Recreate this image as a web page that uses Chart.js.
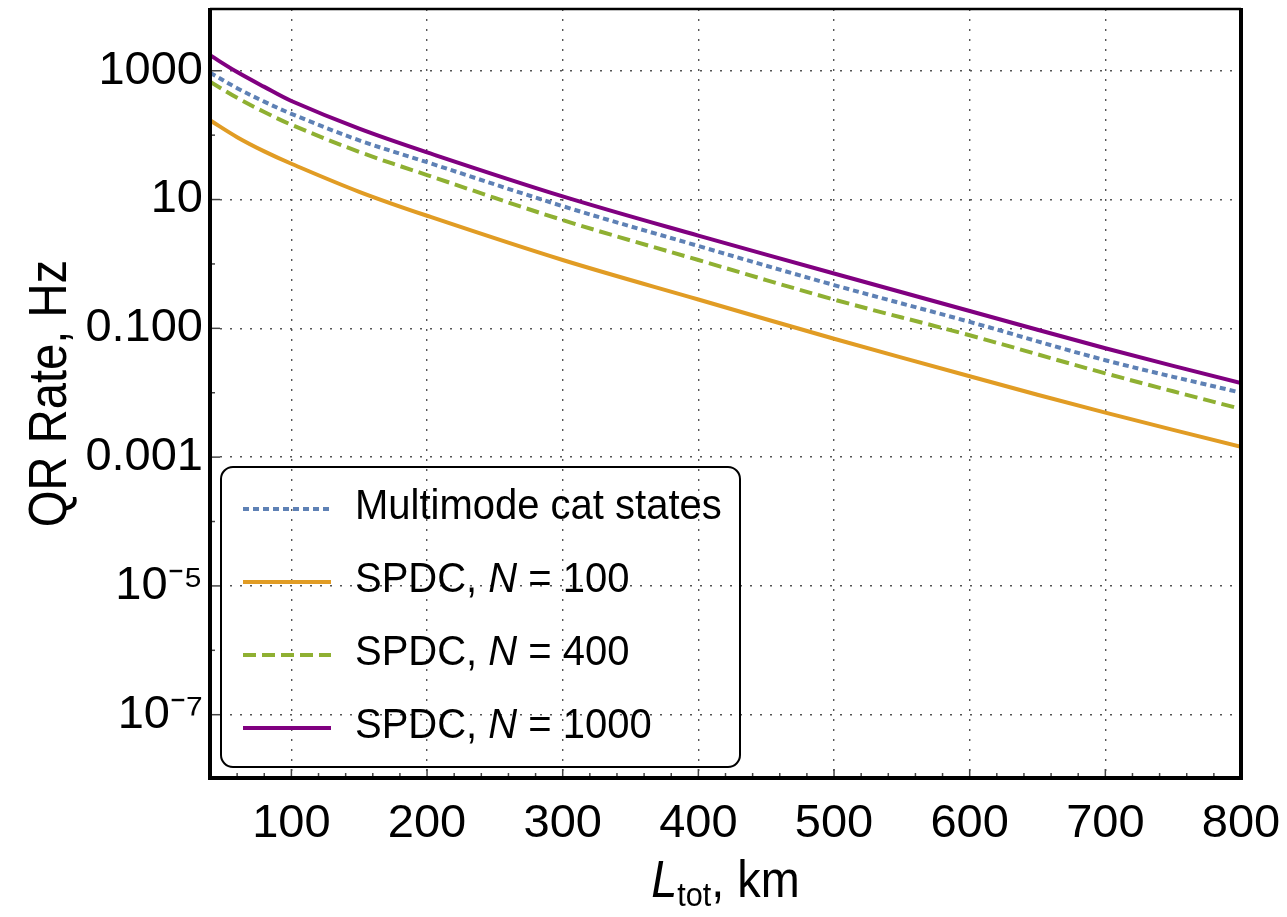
<!DOCTYPE html>
<html><head><meta charset="utf-8">
<script src="https://cdn.jsdelivr.net/npm/chart.js@4.4.1/dist/chart.umd.min.js"></script>
<style>html,body{margin:0;padding:0;background:#fff}#wrap{width:1287px;height:917px}</style>
</head><body><div id="wrap"><canvas id="c" width="1287" height="917"></canvas></div>
<script>
// ---- data ----
const distances = [40, 60, 80, 100, 150, 200, 300, 400, 500, 600, 700, 800];
const catStates = [933, 537, 331, 214, 83, 38, 7.9, 1.9, 0.47, 0.126, 0.032, 0.010];
const spdc100   = [170, 93, 56, 36, 13.2, 5.6, 1.15, 0.28, 0.069, 0.018, 0.0049, 0.00145];
const spdc400   = [676, 380, 229, 145, 55, 24, 4.8, 1.15, 0.28, 0.078, 0.020, 0.0056];
const spdc1000  = [1740, 955, 562, 339, 126, 54, 11.2, 2.75, 0.71, 0.186, 0.049, 0.0141];
const seriesNames = ['Multimode cat states', 'SPDC, N = 100', 'SPDC, N = 400', 'SPDC, N = 1000'];
const xTickValues = [100, 200, 300, 400, 500, 600, 700, 800];
const xTickLabels = ['100', '200', '300', '400', '500', '600', '700', '800'];
const xMinorValues = [40, 60, 80, 120, 140, 160, 180, 220, 240, 260, 280, 320, 340, 360, 380, 420, 440, 460, 480, 520, 540, 560, 580, 620, 640, 660, 680, 720, 740, 760, 780];
const yTickValues = [1000, 10, 0.1, 0.001, 1e-5, 1e-7];
const yTickLabels = ['1000', '10', '0.100', '0.001', '10\u207B\u2075', '10\u207B\u2077'];
const yMinorValues = [100, 1, 0.01, 1e-4, 1e-6];
const xTitle = { main: 'L', sub: 'tot', rest: ', km' };
const yTitle = 'QR Rate, Hz';

const colors = ['#5E81B5', '#E19C24', '#8FB032', '#800080'];
const dashes = [[6, 4], [], [13, 6], []];
const seriesData = [catStates, spdc100, spdc400, spdc1000];
const FONT = "'Liberation Sans', Arial, sans-serif";

function pts(arr) { return distances.map((d, i) => ({ x: d, y: arr[i] })); }

function drawParts(ctx, parts, x, y, sx, align) {
  let total = 0;
  parts.forEach(p => { ctx.font = p.font; p.w = ctx.measureText(p.text).width; total += p.w; });
  let start = align === 'center' ? x - total * sx / 2 : x;
  ctx.save();
  ctx.translate(start, y);
  ctx.scale(sx, 1);
  ctx.textAlign = 'left';
  ctx.textBaseline = 'alphabetic';
  let off = 0;
  parts.forEach(p => { ctx.font = p.font; ctx.fillText(p.text, off, p.dy || 0); off += p.w; });
  ctx.restore();
}

const decor = {
  id: 'decor',
  afterDraw(chart) {
    const { ctx, chartArea: a, scales: { x, y } } = chart;
    ctx.save();
    // inward tick marks
    ctx.strokeStyle = '#444';
    ctx.lineWidth = 1.5;
    const seg = (x1, y1, x2, y2) => { ctx.beginPath(); ctx.moveTo(x1, y1); ctx.lineTo(x2, y2); ctx.stroke(); };
    yTickValues.forEach(v => { const p = y.getPixelForValue(v); seg(a.left, p, a.left + 10, p); });
    yMinorValues.forEach(v => { const p = y.getPixelForValue(v); seg(a.left, p, a.left + 5, p); });
    xTickValues.forEach(v => { const p = x.getPixelForValue(v); seg(p, a.bottom, p, a.bottom - 9); });
    xMinorValues.forEach(v => { const p = x.getPixelForValue(v); seg(p, a.bottom, p, a.bottom - 5); });
    // frame
    ctx.strokeStyle = '#000';
    ctx.lineWidth = 4;
    seg(a.left, a.top - 1, a.left, a.bottom + 2);
    seg(a.left - 2, a.bottom, a.right + 2, a.bottom);
    seg(a.right, a.bottom, a.right, a.top - 1);
    ctx.lineWidth = 2.5;
    seg(a.left, a.top, a.right, a.top);

    // legend
    const lx = a.left + 11, ly = a.top + 458, lw = 519, lh = 300;
    ctx.lineWidth = 2;
    ctx.strokeStyle = '#000';
    ctx.beginPath();
    ctx.roundRect(lx, ly, lw, lh, 12);
    ctx.stroke();
    const rows = [ly + 42, ly + 115, ly + 188, ly + 261];
    ctx.fillStyle = '#000';
    chart.data.datasets.forEach((ds, i) => {
      const ry = rows[i];
      ctx.save();
      ctx.strokeStyle = ds.borderColor;
      ctx.lineWidth = 4;
      ctx.setLineDash(ds.borderDash || []);
      seg(lx + 22, ry, lx + 110, ry);
      ctx.restore();
      const f = '43px ' + FONT, fi = 'italic 43px ' + FONT;
      const name = seriesNames[i];
      let parts;
      if (name.indexOf('N =') >= 0) {
        const k = name.indexOf('N');
        parts = [{ text: name.slice(0, k), font: f }, { text: 'N', font: fi }, { text: name.slice(k + 1), font: f }];
      } else parts = [{ text: name, font: f }];
      drawParts(ctx, parts, lx + 134, ry + 10, 0.93, 'left');
    });

    // x title
    const cx = (a.left + a.right) / 2;
    drawParts(ctx, [
      { text: xTitle.main, font: 'italic 52px ' + FONT },
      { text: xTitle.sub, font: '34px ' + FONT, dy: 9 },
      { text: xTitle.rest, font: '52px ' + FONT }
    ], cx, 897, 0.9, 'center');

    // y title
    ctx.save();
    ctx.translate(66, (a.top + a.bottom) / 2);
    ctx.rotate(-Math.PI / 2);
    drawParts(ctx, [{ text: yTitle, font: '53px ' + FONT }], 0, 0, 0.89, 'center');
    ctx.restore();
    ctx.restore();
  }
};

const chart = new Chart(document.getElementById('c'), {
  type: 'line',
  data: {
    datasets: seriesData.map((arr, i) => ({
      label: seriesNames[i],
      data: pts(arr),
      borderColor: colors[i],
      borderWidth: 4,
      borderDash: dashes[i],
      pointRadius: 0,
      fill: false,
      tension: 0.35
    }))
  },
  options: {
    responsive: false,
    animation: false,
    devicePixelRatio: 1,
    layout: { padding: { left: 0, top: 9, right: 46, bottom: 0 } },
    plugins: { legend: { display: false }, tooltip: { enabled: false } },
    scales: {
      x: {
        type: 'linear', min: 40, max: 800,
        afterFit: s => { s.height = 139; s.paddingLeft = 0; s.paddingRight = 0; },
        afterBuildTicks: s => { s.ticks = xTickValues.map(v => ({ value: v })); },
        ticks: {
          color: '#000', padding: 18, maxRotation: 0, autoSkip: false,
          font: { family: FONT, size: 47 },
          callback: (v) => { const i = xTickValues.indexOf(v); return i >= 0 ? xTickLabels[i] : ''; }
        },
        grid: { color: '#555', lineWidth: 1.4, drawTicks: false },
        border: { display: false, dash: [2, 8] }
      },
      y: {
        type: 'logarithmic', min: 1.04e-8, max: 9100,
        afterFit: s => { s.width = 210; s.paddingTop = 0; s.paddingBottom = 0; },
        afterBuildTicks: s => { s.ticks = yTickValues.map(v => ({ value: v })); },
        ticks: {
          color: '#000', padding: 7, autoSkip: false,
          font: { family: FONT, size: 47 },
          callback: (v) => { const i = yTickValues.findIndex(t => Math.abs(Math.log10(t) - Math.log10(v)) < 1e-6); return i >= 0 ? yTickLabels[i] : ''; }
        },
        grid: { color: '#555', lineWidth: 1.4, drawTicks: false },
        border: { display: false, dash: [2, 8] }
      }
    }
  },
  plugins: [decor]
});
</script></body></html>
